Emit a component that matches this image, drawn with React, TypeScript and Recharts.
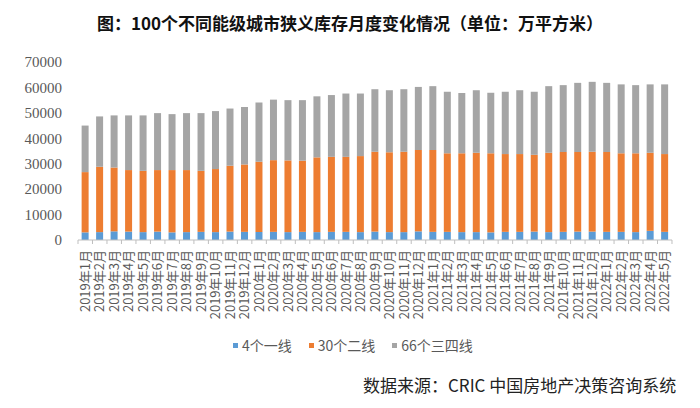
import React from 'react';
import { BarChart, Bar, XAxis, YAxis, Legend } from 'recharts';

// 月份 2019年1月 – 2022年5月
const months = [
  '2019年1月', '2019年2月', '2019年3月', '2019年4月', '2019年5月', '2019年6月',
  '2019年7月', '2019年8月', '2019年9月', '2019年10月', '2019年11月', '2019年12月',
  '2020年1月', '2020年2月', '2020年3月', '2020年4月', '2020年5月', '2020年6月',
  '2020年7月', '2020年8月', '2020年9月', '2020年10月', '2020年11月', '2020年12月',
  '2021年1月', '2021年2月', '2021年3月', '2021年4月', '2021年5月', '2021年6月',
  '2021年7月', '2021年8月', '2021年9月', '2021年10月', '2021年11月', '2021年12月',
  '2022年1月', '2022年2月', '2022年3月', '2022年4月', '2022年5月',
];

// 4个一线
const tier1 = [
  3000, 3100, 3400, 3300, 3100, 3300, 3000, 3100, 3200, 3100, 3300, 3200,
  3100, 3200, 3100, 3200, 3100, 3200, 3200, 3100, 3300, 3100, 3100, 3400,
  3200, 3200, 3100, 3100, 3000, 3200, 3200, 3300, 3100, 3200, 3300, 3300,
  3200, 3200, 3100, 3600, 3200,
];

// 30个二线
const tier2 = [
  23700, 25700, 25100, 24200, 24100, 24200, 24500, 24400, 24000, 24800, 25900, 26500,
  27700, 28200, 28200, 28000, 29400, 29500, 29500, 29900, 31400, 31400, 31600, 32000,
  32200, 30900, 31000, 31200, 31100, 30600, 30600, 30200, 31200, 31400, 31300, 31400,
  31400, 30900, 31000, 30700, 30600,
];

// 66个三四线
const tier3 = [
  18300, 19800, 20500, 21500, 21800, 22400, 22000, 22400, 22700, 22800, 22500, 22600,
  23300, 23800, 23700, 23800, 24000, 24300, 24900, 24600, 24600, 24400, 24600, 24800,
  25100, 24200, 23700, 24600, 23800, 24500, 25100, 24800, 26200, 26300, 27200, 27500,
  27200, 27100, 26800, 26900, 27400,
];

const yTicks = [0, 10000, 20000, 30000, 40000, 50000, 60000, 70000];

const seriesNames = ['4个一线', '30个二线', '66个三四线'];
const colors = ['#5B9BD5', '#ED7D31', '#A5A5A5'];

const data = months.map((m, i) => ({
  month: m,
  t1: tier1[i],
  t2: tier2[i],
  t3: tier3[i],
}));

const cjk = '"Noto Sans CJK SC", "Noto Sans", sans-serif';
const HALF_BAND = 7.24;

function MonthTick(props: any) {
  const { x, y, payload, index } = props;
  return (
    <g>
      <line x1={x - HALF_BAND} y1={y - 6} x2={x - HALF_BAND} y2={y - 2} stroke="#bfbfbf" />
      {index === months.length - 1 && (
        <line x1={x + HALF_BAND} y1={y - 6} x2={x + HALF_BAND} y2={y - 2} stroke="#bfbfbf" />
      )}
      <text
        transform={`translate(${x},${y + 4}) rotate(-90)`}
        textAnchor="end"
        dy="0.36em"
        fontSize={13}
        fontFamily={cjk}
        fill="#595959"
      >
        {payload.value}
      </text>
    </g>
  );
}

function renderLegend() {
  return (
    <div style={{ display: 'flex', paddingLeft: 233, gap: 17, fontFamily: cjk, fontSize: 14, color: '#595959' }}>
      {seriesNames.map((n, i) => (
        <div key={n} style={{ display: 'flex', alignItems: 'center' }}>
          <span style={{ width: 5, height: 5, background: colors[i], marginRight: 4 }} />
          <span>{n}</span>
        </div>
      ))}
    </div>
  );
}

export default function App() {
  return (
    <div style={{ position: 'absolute', left: 0, top: 0, width: 700, height: 408, background: '#fff' }}>
      <div
        style={{
          position: 'absolute', left: 0, top: 12, width: 700, textAlign: 'center',
          fontFamily: cjk, fontWeight: 700, fontSize: 17, color: '#111', lineHeight: '22px',
        }}
      >
        图：100个不同能级城市狭义库存月度变化情况（单位：万平方米）
      </div>
      <BarChart
        width={700}
        height={408}
        data={data}
        margin={{ top: 62, right: 28, bottom: 8, left: 0 }}
        barCategoryGap="25%"
      >
        <XAxis
          dataKey="month"
          interval={0}
          height={160}
          tickLine={false}
          tickSize={4}
          tickMargin={2}
          axisLine={{ stroke: '#bfbfbf' }}
          tick={<MonthTick />}
        />
        <YAxis
          width={78}
          domain={[0, 70000]}
          ticks={yTicks}
          interval={0}
          axisLine={false}
          tickLine={false}
          tickMargin={10}
          tick={{ fontSize: 15, fontFamily: '"Liberation Serif", serif', fill: '#595959' }}
        />
        <Legend
          verticalAlign="middle"
          align="center"
          layout="horizontal"
          content={renderLegend}
          wrapperStyle={{ top: 335, left: 0, width: 700 }}
        />
        <Bar dataKey="t1" name={seriesNames[0]} stackId="a" fill={colors[0]} isAnimationActive={false} />
        <Bar dataKey="t2" name={seriesNames[1]} stackId="a" fill={colors[1]} isAnimationActive={false} />
        <Bar dataKey="t3" name={seriesNames[2]} stackId="a" fill={colors[2]} isAnimationActive={false} />
      </BarChart>
      <div
        style={{
          position: 'absolute', left: 363, top: 374, fontFamily: cjk, fontSize: 17,
          color: '#222', lineHeight: '22px', whiteSpace: 'nowrap',
        }}
      >
        数据来源：CRIC 中国房地产决策咨询系统
      </div>
    </div>
  );
}
